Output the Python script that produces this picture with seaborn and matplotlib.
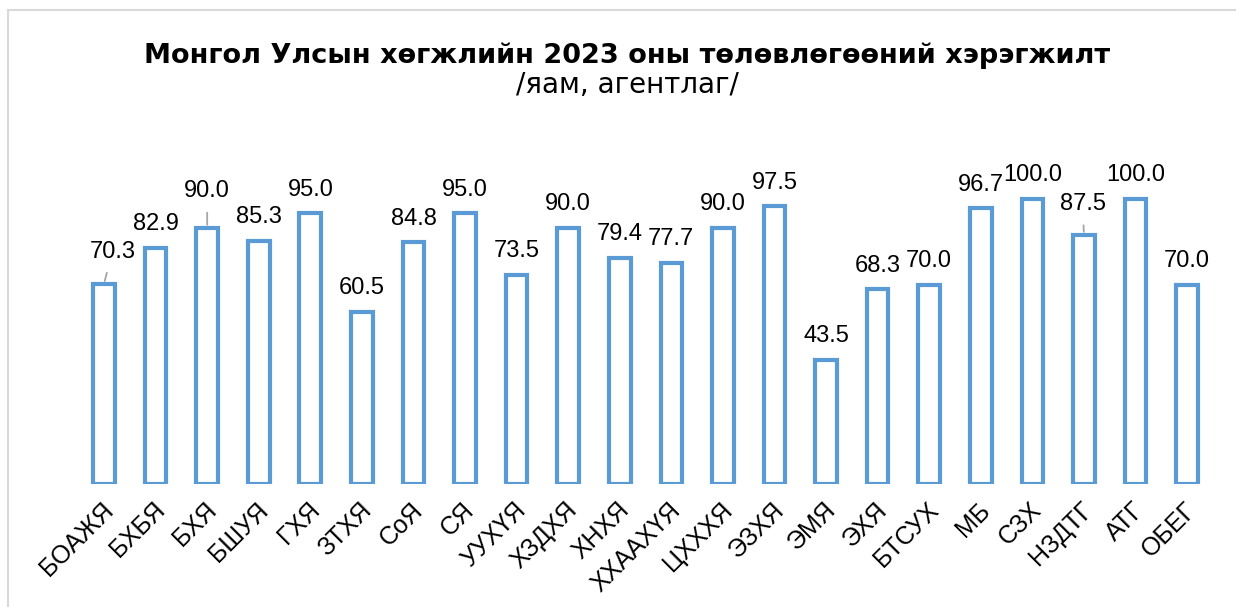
import matplotlib
matplotlib.use("Agg")
import matplotlib.pyplot as plt
import matplotlib.transforms as mtransforms
import seaborn as sns
from matplotlib.patches import Rectangle

# Chart data
agencies = ["БОАЖЯ", "БХБЯ", "БХЯ", "БШУЯ", "ГХЯ", "ЗТХЯ", "СоЯ", "СЯ", "УУХҮЯ",
            "ХЗДХЯ", "ХНХЯ", "ХХААХҮЯ", "ЦХХХЯ", "ЭЗХЯ", "ЭМЯ", "ЭХЯ", "БТСУХ",
            "МБ", "СЗХ", "НЗДТГ", "АТГ", "ОБЕГ"]
completion = [70.3, 82.9, 90.0, 85.3, 95.0, 60.5, 84.8, 95.0, 73.5,
              90.0, 79.4, 77.7, 90.0, 97.5, 43.5, 68.3, 70.0,
              96.7, 100.0, 87.5, 100.0, 70.0]

title = "Монгол Улсын хөгжлийн 2023 оны төлөвлөгөөний хэрэгжилт"
subtitle = "/яам, агентлаг/"

# labels that were dragged off the bar in the original (offset in points)
leader_offsets = {0: (6, 23), 2: (0, 26), 19: (-1, 22)}

sns.set_theme(style="white")
plt.rcParams["font.family"] = ["Liberation Sans", "DejaVu Sans"]

blue = "#5B9BD5"

fig = plt.figure(figsize=(12.36, 6.07), dpi=100)
ax = fig.add_axes([0.0633, 0.2026, 0.918, 0.5634])

sns.barplot(x=agencies, y=completion, ax=ax, color="white", edgecolor=blue,
            linewidth=3, width=0.42, saturation=1)

ax.set_xlim(-0.5, len(agencies) - 0.5)
ax.set_ylim(0, 120)
ax.set_yticks([])
ax.set_xlabel("")
ax.set_ylabel("")
for s in ax.spines.values():
    s.set_visible(False)

ax.tick_params(axis="x", length=0, pad=10)
shift = mtransforms.ScaledTranslation(-3 / 100, 0, fig.dpi_scale_trans)
for lab in ax.get_xticklabels():
    lab.set_rotation(45)
    lab.set_ha("right")
    lab.set_va("top")
    lab.set_rotation_mode("anchor")
    lab.set_fontsize(18)
    lab.set_color("black")
    lab.set_transform(lab.get_transform() + shift)

for i, v in enumerate(completion):
    if i in leader_offsets:
        dx, dy = leader_offsets[i]
        ax.annotate(f"{v:.1f}", xy=(i, v), xytext=(dx, dy),
                    textcoords="offset points", ha="center", va="center",
                    fontsize=17, color="black",
                    arrowprops=dict(arrowstyle="-", color="#A6A6A6", lw=1.3,
                                    shrinkA=5, shrinkB=2))
    else:
        ax.annotate(f"{v:.1f}", xy=(i, v), xytext=(0, 17),
                    textcoords="offset points", ha="center", va="center",
                    fontsize=17, color="black")

fig.text(0.5077, 0.896, title, ha="center", va="baseline", fontsize=19.5,
         fontweight="bold", color="black", family=["DejaVu Sans"])
fig.text(0.5077, 0.847, subtitle, ha="center", va="baseline", fontsize=20,
         color="black", family=["DejaVu Sans"])

# light frame around the chart area
fig.patches.append(Rectangle((0.0065, -0.05), 1.05, 1.034, transform=fig.transFigure,
                             fill=False, edgecolor="#D9D9D9", lw=1.5))

fig.savefig("out.png", dpi=100)
